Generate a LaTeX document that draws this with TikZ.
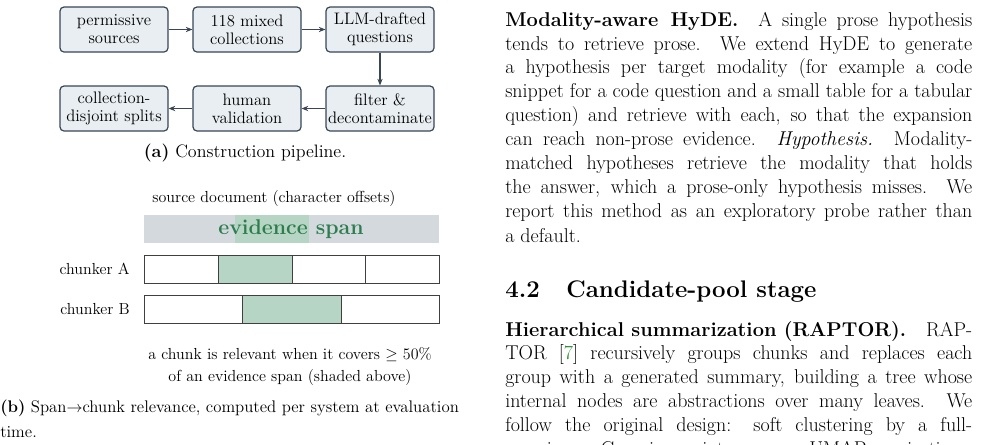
\documentclass[tikz,border=0pt]{standalone}
\usetikzlibrary{arrows.meta}
\definecolor{boxfill}{HTML}{E8EEF2}
\definecolor{boxdraw}{HTML}{3A4656}
\definecolor{bargray}{HTML}{D3D9DD}
\definecolor{spangreen}{HTML}{B7D5C4}
\definecolor{textgreen}{HTML}{2E7D4F}
\definecolor{citegreen}{HTML}{1F8A2A}
\newcommand\jl[3]{\node[anchor=base west,inner sep=0,font=\fontsize{15}{18}\selectfont] (#1) at (505,#2) {\parbox[b]{350.25pt}{\parfillskip=0pt\relax #3}};}
\newcommand\jr[3]{\node[anchor=base west,inner sep=0,font=\fontsize{15}{18}\selectfont] (#1) at (505,#2) {#3};}
\begin{document}
\begin{tikzpicture}[x=0.75pt,y=-0.75pt,
  stage/.style={draw=boxdraw,fill=boxfill,line width=0.9pt,rounded corners=3pt,minimum width=81pt,minimum height=33.75pt,align=center,inner sep=1pt,font=\fontsize{12.5}{13.5}\selectfont},
  flow/.style={-{Stealth[length=5pt,width=4pt]},draw=boxdraw,line width=0.9pt},
  chunk/.style={draw=black!75,line width=0.7pt},
  lbl/.style={inner sep=0,font=\fontsize{12}{14}\selectfont}]
\useasboundingbox (0,0) rectangle (995,444);
\clip (0,0) rectangle (995,444);
% (a) pipeline
\node[stage] (s1) at (114,29.5) {permissive\\sources};
\node[stage] (s2) at (247,29.5) {118 mixed\\collections};
\node[stage] (s3) at (380,29.5) {LLM-drafted\\questions};
\node[stage] (s4) at (380,108.5) {filter \&\\decontaminate};
\node[stage] (s5) at (247,108.5) {human\\validation};
\node[stage] (s6) at (114,108.5) {collection-\\disjoint splits};
\draw[flow] (s1) -- (s2);
\draw[flow] (s2) -- (s3);
\draw[flow] (s3) -- (s4);
\draw[flow] (s4) -- (s5);
\draw[flow] (s5) -- (s6);
\node[inner sep=0,font=\fontsize{13.5}{16}\selectfont] (capa) at (245,153) {\textbf{(a)} Construction pipeline.};
% (b) spans
\node[lbl] (srcdoc) at (274,198) {source document (character offsets)};
\fill[bargray] (144,215) rectangle (439,243);
\fill[spangreen] (235,215) rectangle (309,243);
\node[inner sep=0,font=\fontsize{16}{18}\selectfont\bfseries,text=textgreen] (ev) at (291,229) {evidence span};
\fill[spangreen] (218,255) rectangle (292,283);
\draw[chunk] (144,255) rectangle (439,283);
\draw[chunk] (218,255) -- (218,283) (292,255) -- (292,283) (365,255) -- (365,283);
\fill[spangreen] (242,295) rectangle (341,323);
\draw[chunk] (144,295) rectangle (439,323);
\draw[chunk] (242,295) -- (242,323) (341,295) -- (341,323);
\node[lbl,anchor=east] (ca) at (130,269) {chunker A};
\node[lbl,anchor=east] (cb) at (130,309) {chunker B};
\node[lbl,align=center,font=\fontsize{12}{16.5}\selectfont] (note) at (290,366) {a chunk is relevant when it covers $\geq$ 50\%\\of an evidence span (shaded above)};
\node[anchor=north west,inner sep=0,font=\fontsize{12.6}{18.75}\selectfont] (capb) at (0,400) {\parbox[t]{350pt}{\raggedright\textbf{(b)} Span$\rightarrow$chunk relevance, computed per system at evaluation time.}};
% right column
\jl{r1}{26}{\textbf{Modality-aware HyDE.}\quad A single prose hypothesis}
\jl{r2}{50}{tends to retrieve prose. We extend HyDE to generate}
\jl{r3}{73}{a hypothesis per target modality (for example a code}
\jl{r4}{97}{snippet for a code question and a small table for a tabular}
\jl{r5}{121}{question) and retrieve with each, so that the expansion}
\jl{r6}{145}{can reach non-prose evidence. \emph{Hypothesis.} Modality-}
\jl{r7}{169}{matched hypotheses retrieve the modality that holds}
\jl{r8}{193}{the answer, which a prose-only hypothesis misses. We}
\jl{r9}{217}{report this method as an exploratory probe rather than}
\jr{r10}{242}{a default.}
\node[anchor=base west,inner sep=0,font=\fontsize{18}{20}\selectfont\bfseries] (h42) at (505,297) {4.2};
\node[anchor=base west,inner sep=0,font=\fontsize{18}{20}\selectfont\bfseries] (h42t) at (566,297) {Candidate-pool stage};
\jl{q1}{336}{\textbf{Hierarchical summarization (RAPTOR).}\quad RAP-}
\jl{q2}{359}{TOR [\textcolor{citegreen}{7}] recursively groups chunks and replaces each}
\jl{q3}{383}{group with a generated summary, building a tree whose}
\jl{q4}{407}{internal nodes are abstractions over many leaves. We}
\jl{q5}{431}{follow the original design: soft clustering by a full-}
\jl{q6}{455}{covariance Gaussian mixture over UMAP projections,}
\end{tikzpicture}
\end{document}
